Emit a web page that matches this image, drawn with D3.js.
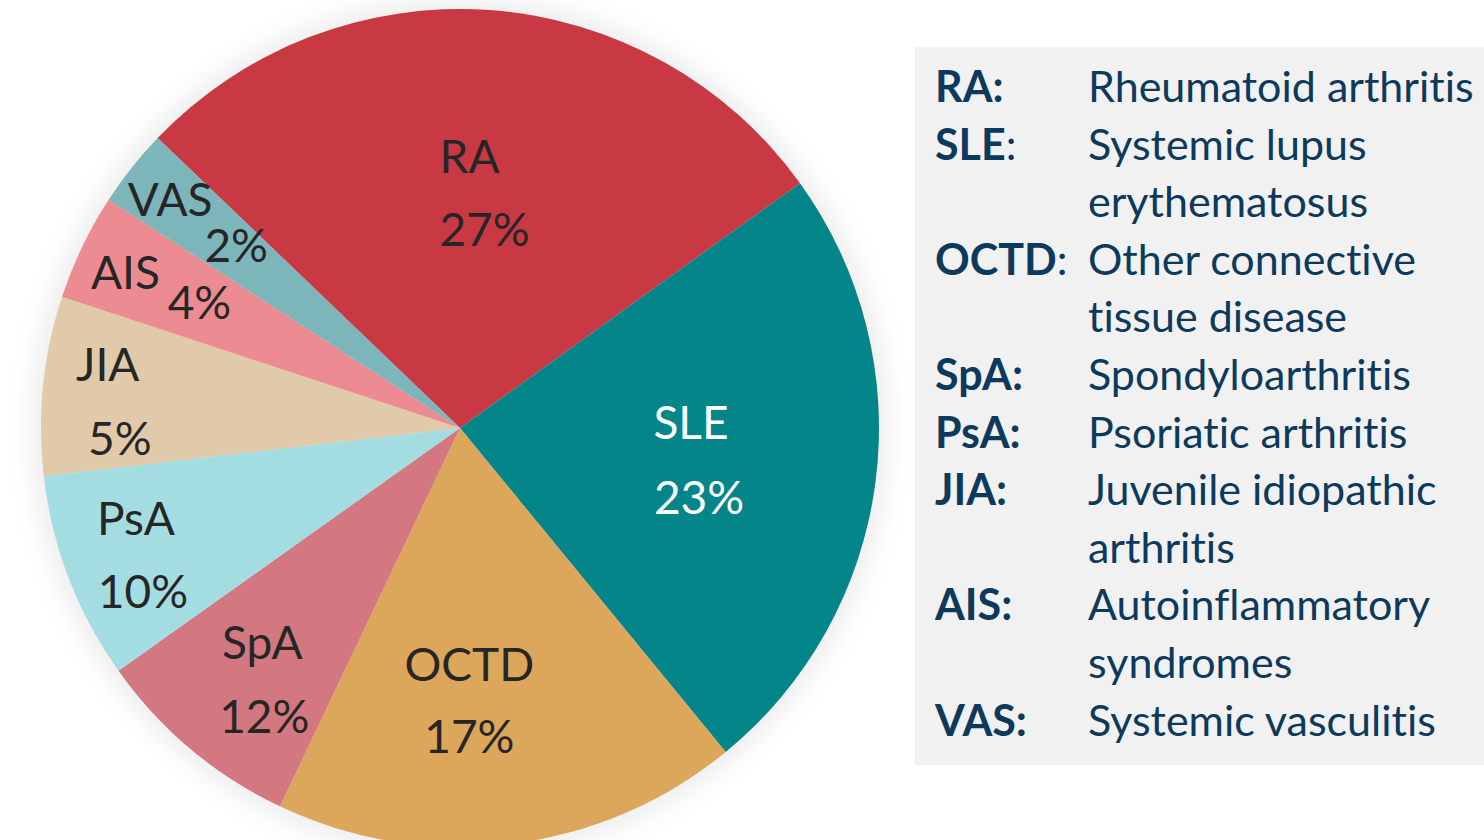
<!DOCTYPE html>
<html>
<head>
<meta charset="utf-8">
<script src="https://cdn.jsdelivr.net/npm/d3@7"></script>
<style>
  html, body { margin: 0; padding: 0; background: #fff; }
  svg { display: block; }
  text { font-variant-ligatures: none; font-feature-settings: "liga" 0, "calt" 0, "dlig" 0, "clig" 0; }
</style>
</head>
<body>
<svg id="chart" width="1484" height="840"></svg>
<script>
// Categories, their printed share and the angle share each slice takes in the picture.
const codes = ['RA', 'SLE', 'OCTD', 'SpA', 'PsA', 'JIA', 'AIS', 'VAS'];
const shareLabels = ['27%', '23%', '17%', '12%', '10%', '5%', '4%', '2%'];
const sliceValues = [27.9, 24.0, 18.0, 8.1, 8.0, 6.9, 4.1, 3.0];
const colors = ['#c93944', '#03858a', '#dca75a', '#d37880', '#a3dde2', '#e0caa9', '#ec8b91', '#7db6ba'];

// Legend rows: abbreviation, whether its colon is bold, and the description lines.
const legendCodes = ['RA', 'SLE', 'OCTD', 'SpA', 'PsA', 'JIA', 'AIS', 'VAS'];
const legendBoldColon = [true, false, false, true, true, true, true, true];
const legendNames = [
  ['Rheumatoid arthritis'],
  ['Systemic lupus', 'erythematosus'],
  ['Other connective', 'tissue disease'],
  ['Spondyloarthritis'],
  ['Psoriatic arthritis'],
  ['Juvenile idiopathic', 'arthritis'],
  ['Autoinflammatory', 'syndromes'],
  ['Systemic vasculitis']
];

const width = 1484;
const height = 840;
const cx = 460, cy = 428, radius = 419;
const font = 'Lato, "Open Sans", "DejaVu Sans", sans-serif';

const svg = d3.select('#chart');

// Soft halo around the pie.
const defs = svg.append('defs');
defs.append('filter')
  .attr('id', 'halo')
  .attr('x', '-20%').attr('y', '-20%')
  .attr('width', '140%').attr('height', '140%')
  .append('feGaussianBlur')
  .attr('stdDeviation', 14);

const pieGroup = svg.append('g')
  .attr('transform', `translate(${cx}, ${cy})`);

pieGroup.append('circle')
  .attr('r', radius + 10)
  .attr('fill', '#000')
  .attr('opacity', 0.07)
  .attr('filter', 'url(#halo)');

// Start angle (VAS/RA boundary at about 313.8 deg).
const start = -46.2 * Math.PI / 180;
const pie = d3.pie()
  .sort(null)
  .value(d => d)
  .startAngle(start)
  .endAngle(start + 2 * Math.PI);

const arcs = pie(sliceValues);
const arc = d3.arc().innerRadius(0).outerRadius(radius);

pieGroup.selectAll('path')
  .data(arcs)
  .enter()
  .append('path')
  .attr('d', arc)
  .attr('fill', (d, i) => colors[i]);

// Label placement: radius of the label block and offsets of the two lines.
const labelRadius = [236, 238, 275, 323, 345, 348, 330, 329];
const line1 = [[-7, -20], [-5, -20], [-24, -20], [10, -16], [-2, -17], [-6, -12], [-37, 4], [-32, -8]];
const line2 = [[8, 53], [3, 55], [-24, 52], [12, 58], [5, 56], [6, 62], [37, 34], [34, 38]];

const labels = pieGroup.selectAll('g.label')
  .data(arcs)
  .enter()
  .append('g')
  .attr('class', 'label')
  .attr('transform', (d, i) => {
    const a = (d.startAngle + d.endAngle) / 2;
    return `translate(${labelRadius[i] * Math.sin(a)}, ${-labelRadius[i] * Math.cos(a)})`;
  })
  .style('font-family', font)
  .style('font-size', '46px')
  .style('text-anchor', 'middle')
  .style('fill', (d, i) => codes[i] === 'SLE' ? '#ffffff' : '#262626');

labels.append('text')
  .attr('x', (d, i) => line1[i][0])
  .attr('y', (d, i) => line1[i][1])
  .text((d, i) => codes[i]);

labels.append('text')
  .attr('x', (d, i) => line2[i][0])
  .attr('y', (d, i) => line2[i][1])
  .text((d, i) => shareLabels[i]);

// Legend panel.
const legend = svg.append('g');
legend.append('rect')
  .attr('x', 915)
  .attr('y', 47)
  .attr('width', width - 915)
  .attr('height', 718)
  .attr('fill', '#f1f1f1');

const rowStep = 57.6;
let row = 0;
const legendText = legend.append('g')
  .style('font-family', font)
  .style('font-size', '43px')
  .style('fill', '#0d3a5c');

legendCodes.forEach((c, i) => {
  const y = 102 + row * rowStep;
  const t = legendText.append('text').attr('x', 935).attr('y', y);
  t.append('tspan').style('font-weight', 'bold').text(c);
  t.append('tspan').style('font-weight', legendBoldColon[i] ? 'bold' : 'normal').text(':');
  legendNames[i].forEach((line, j) => {
    legendText.append('text')
      .attr('x', 1088)
      .attr('y', 102 + (row + j) * rowStep)
      .text(line);
  });
  row += legendNames[i].length;
});
</script>
</body>
</html>
